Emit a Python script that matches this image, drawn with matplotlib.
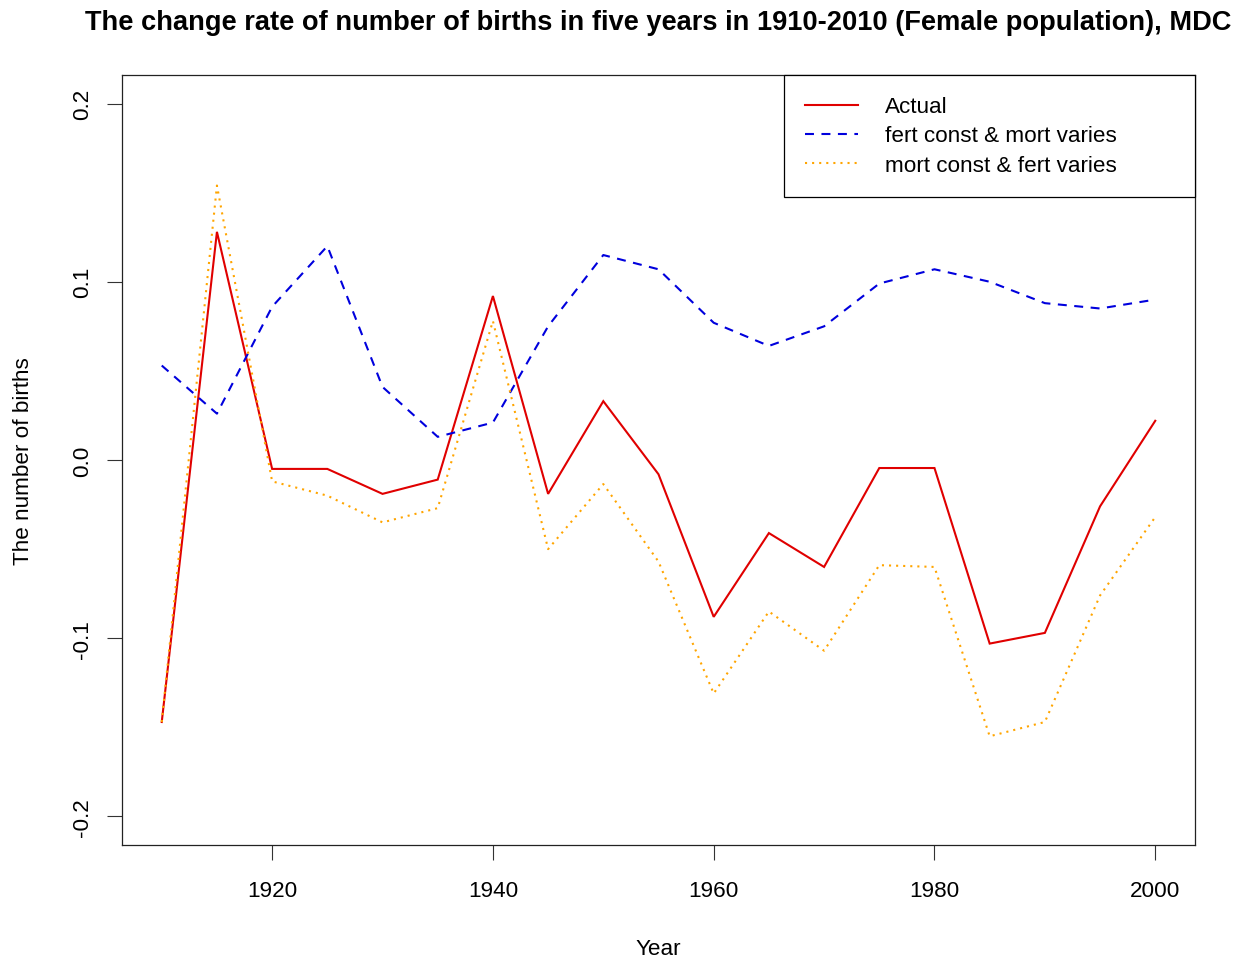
import matplotlib
matplotlib.use("Agg")
import matplotlib.pyplot as plt
from matplotlib.ticker import FixedLocator, FixedFormatter

plt.rcParams['font.family'] = ['Liberation Sans', 'DejaVu Sans']
plt.rcParams['axes.unicode_minus'] = False

# ---- data ----
years = [1910, 1915, 1920, 1925, 1930, 1935, 1940, 1945, 1950, 1955,
         1960, 1965, 1970, 1975, 1980, 1985, 1990, 1995, 2000]
actual = [-0.147, 0.128, -0.005, -0.005, -0.019, -0.011, 0.092, -0.019, 0.033, -0.008,
          -0.088, -0.041, -0.060, -0.0045, -0.0045, -0.103, -0.097, -0.026, 0.022]
fert_const = [0.053, 0.026, 0.086, 0.120, 0.041, 0.013, 0.021, 0.075, 0.115, 0.107,
              0.077, 0.064, 0.075, 0.099, 0.107, 0.100, 0.088, 0.085, 0.090]
mort_const = [-0.147, 0.154, -0.012, -0.020, -0.035, -0.027, 0.078, -0.050, -0.0135, -0.057,
              -0.131, -0.085, -0.107, -0.059, -0.060, -0.155, -0.147, -0.076, -0.032]

series_labels = ["Actual", "fert const & mort varies", "mort const & fert varies"]
x_ticks = [1920, 1940, 1960, 1980, 2000]
y_ticks = [-0.2, -0.1, 0.0, 0.1, 0.2]
y_tick_labels = ["-0.2", "-0.1", "0.0", "0.1", "0.2"]
title = "The change rate of number of births in five years in 1910-2010 (Female population), MDC"

# ---- figure ----
W, H = 1246, 962
fig = plt.figure(figsize=(W / 100, H / 100), dpi=100)
L, R, T, B = 122, 1195, 76, 846
ax = fig.add_axes([L / W, 1 - B / H, (R - L) / W, (B - T) / H])

FS = 16.2
lw = 1.5
ax.plot(years, actual, color='#e00000', lw=lw, solid_joinstyle='miter', label=series_labels[0])
ax.plot(years, fert_const, color='#0000dd', lw=lw, linestyle=(0, (4.3, 3.6)), label=series_labels[1])
ax.plot(years, mort_const, color='#ffa500', lw=lw, linestyle=(0, (1, 2.4)), label=series_labels[2])

ax.set_xlim(1906.4, 2003.6)
ax.set_ylim(-0.216, 0.216)
ax.xaxis.set_major_locator(FixedLocator(x_ticks))
ax.yaxis.set_major_locator(FixedLocator(y_ticks))
ax.yaxis.set_major_formatter(FixedFormatter(y_tick_labels))

for s in ax.spines.values():
    s.set_linewidth(0.9)
    s.set_color('#222222')

ax.tick_params(axis='both', direction='out', length=10.8, width=0.8, color='#333333',
               labelsize=FS)
ax.tick_params(axis='x', pad=14.5)
ax.tick_params(axis='y', pad=10.3, labelrotation=90)
for lab in ax.get_yticklabels():
    lab.set_va('center')

ax.set_xlabel("Year", fontsize=FS, va='baseline')
ax.xaxis.set_label_coords(0.5, -(955 - B) / (B - T))
ax.set_ylabel("The number of births", fontsize=FS, va='center')
ax.yaxis.set_label_coords(-(L - 24) / (R - L), 0.5)

fig.text((L + R) / 2 / W, 1 - 30 / H, title, ha='center', va='baseline',
         fontsize=19.65, fontweight='bold')

leg = ax.legend(loc='upper left', bbox_to_anchor=((784 - L) / (R - L), 0, 1 - (784 - L) / (R - L), 1.0),
                mode='expand', borderaxespad=0, fontsize=FS, fancybox=False, framealpha=1,
                edgecolor='black', borderpad=0.95, handlelength=2.35, handletextpad=1.2,
                labelspacing=0.36)
leg.get_frame().set_linewidth(0.9)

fig.savefig("out.png", dpi=100)
